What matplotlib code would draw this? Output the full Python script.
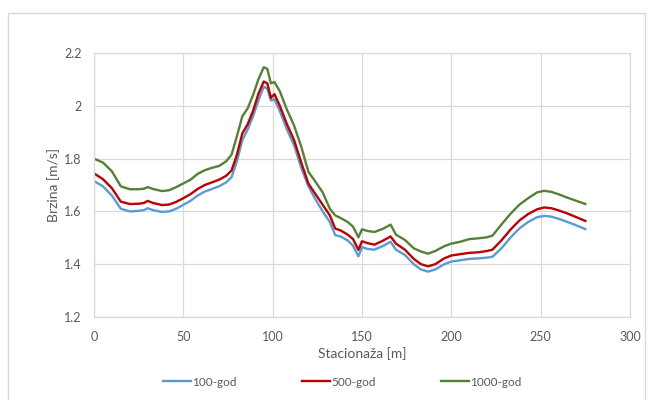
import matplotlib
matplotlib.use("Agg")
import matplotlib.pyplot as plt
from matplotlib.patches import Rectangle

plt.rcParams['font.family'] = ['Lato', 'DejaVu Sans']

# Stationing along the reach [m]
stacionaza = [0, 5, 10, 15, 20, 25, 28, 30, 33, 38, 42, 46, 50, 54, 58, 62, 66, 70, 74, 77,
              80, 83, 86, 89, 92, 95, 97, 99, 101, 104, 108, 112, 116, 120, 124, 128, 132, 135,
              138, 142, 145, 148, 150, 153, 157, 162, 166, 169, 174, 179, 183, 187, 191, 196,
              200, 205, 210, 215, 220, 223, 228, 233, 238, 243, 248, 252, 256, 260, 265, 270, 275]

# Flow velocity [m/s] for each return period
v_100 = [1.715, 1.695, 1.660, 1.610, 1.600, 1.602, 1.605, 1.612, 1.605, 1.598, 1.600, 1.610,
         1.625, 1.640, 1.660, 1.675, 1.685, 1.695, 1.710, 1.730, 1.790, 1.870, 1.910, 1.960,
         2.020, 2.072, 2.065, 2.020, 2.025, 1.980, 1.910, 1.850, 1.765, 1.695, 1.645, 1.600,
         1.560, 1.510, 1.505, 1.490, 1.470, 1.430, 1.465, 1.458, 1.455, 1.470, 1.485, 1.455,
         1.435, 1.400, 1.380, 1.372, 1.380, 1.400, 1.410, 1.415, 1.420, 1.422, 1.425, 1.428,
         1.460, 1.500, 1.535, 1.560, 1.578, 1.583, 1.580, 1.572, 1.560, 1.547, 1.533]

v_500 = [1.744, 1.722, 1.688, 1.637, 1.628, 1.629, 1.632, 1.640, 1.632, 1.624, 1.626, 1.636,
         1.650, 1.665, 1.685, 1.700, 1.710, 1.720, 1.735, 1.755, 1.815, 1.895, 1.930, 1.980,
         2.045, 2.092, 2.085, 2.030, 2.044, 2.000, 1.930, 1.870, 1.785, 1.705, 1.665, 1.625,
         1.585, 1.535, 1.528, 1.512, 1.495, 1.454, 1.487, 1.480, 1.474, 1.490, 1.505, 1.478,
         1.455, 1.420, 1.400, 1.392, 1.400, 1.422, 1.433, 1.438, 1.443, 1.445, 1.450, 1.455,
         1.490, 1.530, 1.565, 1.590, 1.608, 1.615, 1.612, 1.604, 1.592, 1.578, 1.564]

v_1000 = [1.800, 1.785, 1.752, 1.695, 1.684, 1.684, 1.686, 1.692, 1.685, 1.677, 1.680, 1.692,
          1.706, 1.720, 1.742, 1.756, 1.765, 1.772, 1.790, 1.815, 1.885, 1.960, 1.990, 2.040,
          2.100, 2.146, 2.140, 2.085, 2.090, 2.055, 1.985, 1.925, 1.845, 1.750, 1.712, 1.672,
          1.610, 1.585, 1.575, 1.560, 1.542, 1.502, 1.532, 1.526, 1.522, 1.535, 1.550, 1.512,
          1.492, 1.460, 1.448, 1.440, 1.450, 1.468, 1.478, 1.485, 1.495, 1.498, 1.502, 1.508,
          1.550, 1.590, 1.625, 1.650, 1.672, 1.678, 1.674, 1.665, 1.652, 1.640, 1.628]

series_labels = ["100-god", "500-god", "1000-god"]
series_colors = ["#5B9BD5", "#C00000", "#548235"]

fig = plt.figure(figsize=(6.49, 4.0), dpi=100)
fig.patch.set_facecolor("white")

# outer chart frame
fig.patches.append(Rectangle((8 / 649, -0.02), 637 / 649, 1 - 13 / 400 + 0.02,
                             transform=fig.transFigure, fill=False,
                             edgecolor="#D9D9D9", linewidth=1.0))

ax = fig.add_axes([94 / 649, 83 / 400, 536 / 649, 264 / 400])

for vals, lab, col in zip([v_100, v_500, v_1000], series_labels, series_colors):
    ax.plot(stacionaza, vals, color=col, linewidth=1.7, label=lab, solid_joinstyle="round")

ax.set_xlim(0, 300)
ax.set_ylim(1.2, 2.2)
ax.set_xticks(range(0, 301, 50))
ax.set_yticks([1.2, 1.4, 1.6, 1.8, 2.0, 2.2])
ax.set_yticklabels(["1.2", "1.4", "1.6", "1.8", "2", "2.2"])
ax.grid(True, color="#D9D9D9", linewidth=0.9)
ax.set_axisbelow(True)
for s in ax.spines.values():
    s.set_color("#D9D9D9")
    s.set_linewidth(0.9)
ax.tick_params(length=0, colors="#595959", labelsize=9)
ax.tick_params(axis="x", pad=10)
ax.tick_params(axis="y", pad=9)

ax.set_xlabel("Stacionaža [m]", color="#595959", fontsize=10, labelpad=3)
ax.set_ylabel("Brzina [m/s]", color="#595959", fontsize=10, labelpad=3)

fig.legend(loc="center", bbox_to_anchor=(342 / 649, 18 / 400), ncol=3, frameon=False,
           fontsize=8.5, handlelength=2.4, columnspacing=5.5, handletextpad=0.1,
           labelcolor="#595959")

fig.savefig("out.png", dpi=100, facecolor="white")
